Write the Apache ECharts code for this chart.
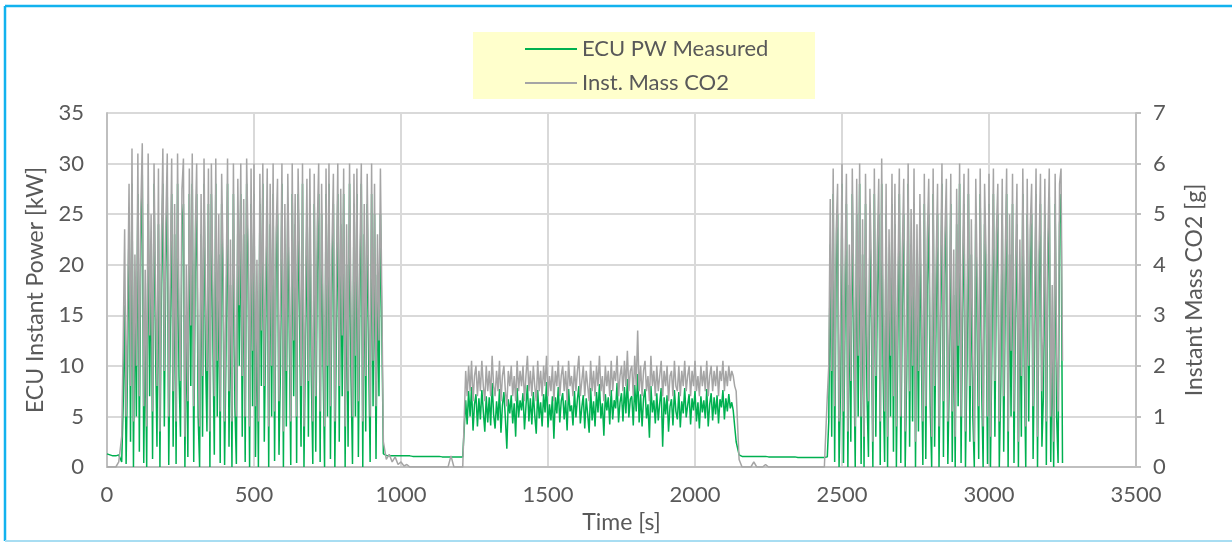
<!DOCTYPE html>
<html>
<head>
<meta charset="utf-8">
<title>ECU power and CO2</title>
<script src="https://cdn.jsdelivr.net/npm/echarts@6.0.0/dist/echarts.min.js"></script>
<style>
body { margin: 0; background: #fff; }
#chart { width: 1232px; height: 543px; }
</style>
</head>
<body>
<div id="chart"></div>
<script>
/* log segments: start time [s] and sample step [s] */
var startUp = 0, stepUp = 10;
var startBurst1 = 50, stepBurst1 = 5;
var startIdle1 = 940, stepIdle1 = 10;
var startBurst2 = 1220, stepBurst2 = 5;
var startIdle2 = 2150, stepIdle2 = 10;
var startBurst3 = 2450, stepBurst3 = 5;

/* ECU PW Measured [kW] */
var pwUp = [1.3, 1.2, 1.1, 1.1, 1.2];
var pwBurst1 = [0.5, 6, 16, 0.3, 10, 25, 2.5, 28, 0, 17,
    5, 27, 1.5, 22, 29, 0.4, 14, 0, 26, 7,
    21, 0.8, 28, 12, 2, 24, 0, 18, 28, 4,
    20, 27, 0.2, 13, 27, 2, 23, 0.3, 28, 9,
    3, 24, 26, 0, 15, 1.0, 27, 8, 28, 0.5,
    19, 27, 5, 0, 23, 3, 28, 11, 3.5, 26,
    0, 27, 13, 1.2, 28, 5, 21, 0.4, 26, 16,
    0.2, 12, 28, 2, 18, 0, 27, 6, 0.3, 25,
    10, 27, 3, 23, 0.5, 28, 18, 0, 26, 6,
    27, 1.0, 15, 0, 26, 8, 28, 2.5, 14, 26,
    0, 24, 5, 27, 0.6, 19, 25, 1.2, 10, 28,
    0, 22, 4, 26, 13, 0.2, 27, 7, 24, 0.4,
    27, 15, 2, 28, 0, 12, 25, 3, 26, 9,
    0.3, 26, 1.5, 19, 27, 0.5, 25, 10, 0, 27,
    5, 28, 0.8, 17, 26, 0, 13, 27, 2.5, 24,
    7, 27, 0, 20, 2, 28, 9, 0.3, 26, 5,
    27, 1.0, 16, 28, 0, 23, 3.5, 26, 11, 0.5,
    27, 6, 25, 0.8, 19, 7, 25];
var pwIdle1 = [1.3, 1.15, 1.1, 1.1, 1.1, 1.1, 1.1, 1.1, 1.1, 1.1,
    1.05, 1.05, 1.05, 1.05, 1.05, 1.05, 1.05, 1.05, 1.05, 1.05,
    1.0, 1.0, 1.0, 1.0, 1.0, 1.0, 1.0, 1.0];
var pwBurst2 = [6.6, 4.2, 7.5, 5.0, 7.9, 3.6, 6.2, 7.2, 4.0, 6.8,
    4.7, 7.6, 5.5, 3.5, 7.0, 4.4, 6.9, 4.1, 8.3, 5.2,
    3.8, 6.5, 4.6, 7.7, 3.4, 6.1, 7.4, 4.8, 1.8, 6.7,
    5.3, 7.1, 4.3, 6.3, 3.0, 7.8, 4.9, 6.6, 5.6, 7.3,
    3.7, 6.0, 8.1, 4.5, 6.8, 4.2, 7.4, 5.1, 3.3, 7.6,
    4.8, 6.4, 4.0, 7.2, 5.4, 8.4, 3.9, 6.2, 4.6, 7.0,
    2.8, 6.9, 5.3, 7.9, 4.4, 6.5, 7.3, 4.7, 6.6, 3.6,
    7.7, 5.5, 6.1, 4.1, 7.5, 4.9, 6.7, 8.0, 4.3, 5.9,
    7.1, 3.8, 6.8, 5.2, 3.4, 7.8, 4.6, 6.5, 4.0, 7.4,
    5.4, 8.2, 4.8, 6.3, 3.1, 7.2, 5.6, 6.9, 4.2, 7.6,
    4.7, 6.6, 5.8, 8.3, 4.4, 6.4, 7.3, 4.5, 7.9, 5.3,
    8.7, 4.9, 6.7, 7.0, 4.1, 8.1, 5.5, 9.2, 4.4, 7.2,
    4.0, 6.8, 7.7, 4.8, 6.2, 2.9, 8.0, 5.4, 6.6, 4.3,
    7.3, 4.6, 6.3, 7.8, 2.0, 6.9, 5.2, 7.1, 3.5, 6.0,
    6.7, 4.1, 7.6, 5.5, 4.7, 7.4, 3.9, 6.5, 5.3, 7.8,
    4.9, 6.1, 7.2, 4.2, 6.8, 5.6, 7.5, 4.5, 6.4, 3.8,
    7.0, 5.4, 6.6, 4.8, 7.7, 4.0, 6.2, 7.3, 4.6, 6.9,
    5.2, 7.1, 4.3, 6.7, 5.9, 7.6, 4.7, 6.8, 5.5, 7.2,
    5.8, 6.4, 5.6, 4.0, 2.5];
var pwIdle2 = [1.2, 1.05, 1.05, 1.05, 1.05, 1.05, 1.05, 1.05, 1.05, 1.05,
    1.0, 1.0, 1.0, 1.0, 1.0, 1.0, 1.0, 1.0, 1.0, 1.0,
    0.95, 0.95, 0.95, 0.95, 0.95, 0.95, 0.95, 0.95, 0.95, 0.95];
var pwBurst3 = [1.0, 4.5, 22, 3, 27, 0.5, 19, 25, 0, 8,
    28, 0.4, 14, 26, 0, 18, 2.5, 27, 12, 0,
    25, 5, 28, 0.3, 21, 0, 26, 7, 1.0, 24,
    14, 0, 27, 3, 17, 25, 0.2, 28, 9, 0.5,
    25, 0, 19, 5, 26, 1.5, 24, 0, 13, 27,
    0.4, 16, 25, 0, 9, 28, 2, 22, 4.5, 26,
    0, 20, 3.5, 24, 11, 0.2, 26, 0.8, 18, 25,
    6, 0, 27, 2, 15, 25, 0, 13, 28, 1.0,
    19, 25, 0.3, 9, 26, 0.5, 17, 0, 24, 6,
    28, 0.4, 15, 26, 0, 10, 27, 2.5, 21, 5,
    0, 25, 13, 0.8, 27, 8, 0, 24, 16, 0.3,
    26, 0, 12, 27, 3, 19, 25, 0, 8, 25,
    1.5, 16, 27, 0, 21, 5, 26, 0.4, 15, 24,
    0, 18, 3, 27, 10, 0, 25, 4.5, 19, 25,
    0.8, 12, 27, 0, 17, 26, 2, 7, 25, 0.2,
    18, 27, 0.5, 13, 0, 26, 5, 0.4, 24, 27,
    0.4];

/* Inst. Mass CO2 [g] */
var co2Up = [0, 0, 0, 0, 0.1];
var co2Burst1 = [0.6, 2.4, 4.7, 1.0, 3.1, 5.6, 1.6, 6.3, 0.9, 4.2,
    2.0, 6.2, 1.4, 5.1, 6.4, 1.2, 3.9, 0.8, 6.2, 2.6,
    5.0, 1.1, 6.0, 3.4, 1.6, 5.9, 0.7, 4.4, 6.3, 1.9,
    4.8, 6.2, 1.0, 3.7, 6.1, 1.5, 5.2, 0.9, 6.2, 3.0,
    1.7, 5.5, 6.1, 0.6, 4.0, 1.3, 5.9, 2.8, 6.2, 1.2,
    4.6, 6.0, 2.2, 0.8, 5.4, 1.8, 6.1, 3.3, 1.9, 5.9,
    0.7, 6.0, 3.6, 1.4, 6.1, 2.1, 5.0, 1.1, 5.8, 4.1,
    0.9, 3.5, 6.1, 1.5, 4.5, 0.9, 6.0, 2.4, 1.0, 5.7,
    3.2, 6.0, 1.8, 5.3, 1.0, 6.1, 4.4, 0.8, 5.9, 2.3,
    6.0, 1.2, 4.1, 0.9, 5.8, 2.7, 6.0, 1.6, 3.8, 5.9,
    0.8, 5.6, 2.0, 6.0, 1.1, 4.6, 5.7, 1.3, 3.2, 6.0,
    0.7, 5.2, 1.9, 5.8, 3.6, 0.9, 6.0, 2.5, 5.4, 1.0,
    5.9, 4.0, 1.6, 6.0, 0.8, 3.4, 5.7, 1.7, 5.9, 2.9,
    0.9, 5.8, 1.4, 4.7, 6.0, 1.1, 5.6, 3.1, 0.8, 5.9,
    2.0, 6.0, 1.2, 4.3, 5.8, 0.9, 3.7, 6.0, 1.6, 5.5,
    2.6, 5.9, 0.8, 4.8, 1.5, 6.0, 3.0, 1.0, 5.8, 2.2,
    5.9, 1.3, 4.1, 6.0, 0.9, 5.2, 1.8, 5.8, 3.3, 1.0,
    6.0, 2.1, 5.6, 1.2, 4.6, 2.5, 5.9];
var co2Idle1 = [0.5, 0.15, 0.25, 0.1, 0.2, 0.05, 0.1, 0.02, 0.05, 0,
    0, 0, 0, 0, 0, 0, 0, 0, 0, 0,
    0, 0, 0, 0.22, 0, 0, 0, 0];
var co2Burst2 = [1.9, 1.4, 2.0, 1.5, 2.1, 1.3, 1.8, 2.0, 1.4, 1.9,
    1.5, 2.1, 1.6, 1.3, 2.0, 1.5, 1.9, 1.4, 2.2, 1.6,
    1.4, 1.9, 1.5, 2.1, 1.3, 1.8, 2.0, 1.5, 1.2, 1.9,
    1.6, 2.0, 1.4, 1.8, 1.3, 2.1, 1.5, 1.9, 1.6, 2.0,
    1.3, 1.8, 2.2, 1.5, 1.9, 1.4, 2.0, 1.6, 1.3, 2.1,
    1.5, 1.9, 1.4, 2.0, 1.6, 2.2, 1.4, 1.8, 1.5, 2.0,
    1.3, 1.9, 1.6, 2.1, 1.4, 1.8, 2.0, 1.5, 1.9, 1.3,
    2.1, 1.6, 1.8, 1.4, 2.0, 1.5, 1.9, 2.2, 1.4, 1.7,
    2.0, 1.4, 1.9, 1.6, 1.3, 2.1, 1.5, 1.9, 1.4, 2.0,
    1.6, 2.2, 1.5, 1.8, 1.3, 2.0, 1.6, 1.9, 1.4, 2.1,
    1.5, 1.9, 1.7, 2.2, 1.4, 1.8, 2.0, 1.5, 2.1, 1.6,
    2.3, 1.5, 1.9, 2.0, 1.4, 2.2, 1.6, 2.7, 1.5, 2.0,
    1.4, 1.9, 2.1, 1.5, 1.8, 1.3, 2.2, 1.6, 1.9, 1.4,
    2.0, 1.5, 1.8, 2.1, 1.4, 1.9, 1.6, 2.0, 1.3, 1.8,
    1.9, 1.4, 2.1, 1.6, 1.5, 2.0, 1.4, 1.9, 1.6, 2.1,
    1.5, 1.8, 2.0, 1.4, 1.9, 1.6, 2.1, 1.5, 1.8, 1.4,
    2.0, 1.6, 1.9, 1.5, 2.1, 1.4, 1.8, 2.0, 1.5, 1.9,
    1.6, 2.0, 1.4, 1.9, 1.7, 2.1, 1.5, 1.9, 1.6, 2.0,
    1.7, 1.9, 1.8, 1.6, 1.5];
var co2Idle2 = [0.15, 0, 0, 0, 0, 0.1, 0, 0, 0, 0.05,
    0, 0, 0, 0, 0, 0, 0, 0, 0, 0,
    0, 0, 0, 0, 0, 0, 0, 0, 0, 0];
var co2Burst3 = [1.4, 2.0, 5.3, 1.9, 5.9, 1.2, 4.6, 5.6, 0.9, 2.8,
    6.0, 1.1, 3.8, 5.8, 0.7, 4.4, 1.7, 5.9, 3.4, 0.8,
    5.7, 2.2, 6.0, 1.0, 4.9, 0.6, 5.8, 2.6, 1.3, 5.5,
    3.9, 0.5, 5.9, 1.8, 4.3, 5.7, 0.9, 6.1, 3.0, 1.1,
    5.6, 0.6, 4.7, 2.2, 5.8, 1.4, 5.6, 0.8, 3.6, 5.9,
    1.0, 4.2, 5.7, 0.7, 2.9, 6.0, 1.5, 5.1, 2.0, 5.9,
    0.5, 4.8, 1.9, 5.4, 3.3, 0.9, 5.8, 1.2, 4.5, 5.7,
    2.5, 0.6, 5.9, 1.6, 4.0, 5.6, 0.8, 3.7, 6.0, 1.3,
    4.6, 5.7, 0.9, 2.9, 5.8, 1.1, 4.3, 0.6, 5.5, 2.4,
    6.0, 1.0, 4.0, 5.8, 0.7, 3.1, 5.9, 1.6, 4.9, 2.1,
    0.5, 5.7, 3.6, 1.2, 5.9, 2.7, 0.8, 5.6, 4.2, 1.0,
    5.8, 0.6, 3.5, 5.9, 1.7, 4.6, 5.6, 0.9, 2.8, 5.7,
    1.4, 4.1, 5.9, 0.7, 5.0, 2.3, 5.8, 1.1, 3.9, 5.6,
    0.5, 4.5, 1.8, 5.9, 3.1, 0.8, 5.7, 2.0, 4.7, 5.6,
    1.2, 3.4, 5.9, 0.6, 4.2, 5.8, 1.5, 2.6, 5.7, 0.9,
    4.4, 5.9, 1.0, 3.6, 0.5, 5.8, 2.2, 1.1, 5.6, 5.9,
    2.1];

var xTicks = { min: 0, max: 3500, step: 500 };
var leftTicks = { min: 0, max: 35, step: 5 };
var rightTicks = { min: 0, max: 7, step: 1 };

function toPairs(start, step, values) {
    var out = [];
    for (var i = 0; i < values.length; ++i) {
        out.push([start + i * step, values[i]]);
    }
    return out;
}
function plain(v) {
    return String(v);
}

var pwData = [].concat(
    toPairs(startUp, stepUp, pwUp),
    toPairs(startBurst1, stepBurst1, pwBurst1),
    toPairs(startIdle1, stepIdle1, pwIdle1),
    toPairs(startBurst2, stepBurst2, pwBurst2),
    toPairs(startIdle2, stepIdle2, pwIdle2),
    toPairs(startBurst3, stepBurst3, pwBurst3));
var co2Data = [].concat(
    toPairs(startUp, stepUp, co2Up),
    toPairs(startBurst1, stepBurst1, co2Burst1),
    toPairs(startIdle1, stepIdle1, co2Idle1),
    toPairs(startBurst2, stepBurst2, co2Burst2),
    toPairs(startIdle2, stepIdle2, co2Idle2),
    toPairs(startBurst3, stepBurst3, co2Burst3));

var font = 'Lato';
var textColor = '#595959';

var chart = echarts.init(document.getElementById('chart'), null, { renderer: 'canvas' });
var option = {
    animation: false,
    backgroundColor: '#fff',
    textStyle: { fontFamily: font },
    grid: { left: 107, right: 96, top: 113, bottom: 76, containLabel: false },
    graphic: [
        // chart area border
        { type: 'line', shape: { x1: 5, y1: 6, x2: 5, y2: 541 }, style: { stroke: '#12b2ee', lineWidth: 2.5 } },
        { type: 'line', shape: { x1: 5, y1: 6, x2: 1232, y2: 6 }, style: { stroke: '#12b2ee', lineWidth: 2.5 } },
        { type: 'line', shape: { x1: 5, y1: 541, x2: 1232, y2: 541 }, style: { stroke: '#a8ddf2', lineWidth: 2 } },
        // legend box
        { type: 'rect', shape: { x: 473, y: 32, width: 342, height: 67 }, style: { fill: '#ffffcc' }, z: 0 }
    ],
    legend: {
        data: ['ECU PW Measured', 'Inst. Mass CO2'],
        orient: 'vertical',
        left: 525,
        top: 37,
        padding: 0,
        itemWidth: 52,
        itemHeight: 2,
        itemGap: 10,
        icon: 'rect',
        textStyle: { fontFamily: font, fontSize: 22, color: textColor, lineHeight: 24 },
        z: 5
    },
    xAxis: {
        type: 'value',
        min: xTicks.min,
        max: xTicks.max,
        interval: xTicks.step,
        name: 'Time [s]',
        nameLocation: 'middle',
        nameGap: 44,
        nameTextStyle: { fontFamily: font, fontSize: 23, color: textColor },
        axisLine: { show: true, lineStyle: { color: '#bfbfbf', width: 2 } },
        axisTick: { show: false },
        axisLabel: { fontFamily: font, fontSize: 22, color: textColor, margin: 17, formatter: plain },
        splitLine: { show: true, lineStyle: { color: '#d9d9d9', width: 2 } }
    },
    yAxis: [
        {
            type: 'value',
            position: 'left',
            min: leftTicks.min,
            max: leftTicks.max,
            interval: leftTicks.step,
            name: 'ECU Instant Power [kW]',
            nameLocation: 'middle',
            nameGap: 60,
            nameTextStyle: { fontFamily: font, fontSize: 23, color: textColor },
            axisLine: { show: true, lineStyle: { color: '#bfbfbf', width: 2 } },
            axisTick: { show: false },
            axisLabel: { fontFamily: font, fontSize: 22, color: textColor, margin: 23, formatter: plain },
            splitLine: { show: true, lineStyle: { color: '#d9d9d9', width: 2 } }
        },
        {
            type: 'value',
            position: 'right',
            min: rightTicks.min,
            max: rightTicks.max,
            interval: rightTicks.step,
            name: 'Instant Mass CO2 [g]',
            nameLocation: 'middle',
            nameGap: 47,
            nameTextStyle: { fontFamily: font, fontSize: 23, color: textColor },
            axisLine: { show: true, lineStyle: { color: '#bfbfbf', width: 2 } },
            axisTick: { show: true, length: 5, lineStyle: { color: '#bfbfbf', width: 2 } },
            axisLabel: { fontFamily: font, fontSize: 22, color: textColor, margin: 17, formatter: plain },
            splitLine: { show: false }
        }
    ],
    series: [
        {
            name: 'ECU PW Measured',
            type: 'line',
            yAxisIndex: 0,
            data: pwData,
            showSymbol: false,
            sampling: 'none',
            color: '#00b050',
            lineStyle: { color: '#00b050', width: 1.5 },
            z: 2
        },
        {
            name: 'Inst. Mass CO2',
            type: 'line',
            yAxisIndex: 1,
            data: co2Data,
            showSymbol: false,
            sampling: 'none',
            color: '#a5a5a5',
            lineStyle: { color: '#a5a5a5', width: 1.5 },
            z: 3
        }
    ]
};
chart.setOption(option);
</script>
</body>
</html>
